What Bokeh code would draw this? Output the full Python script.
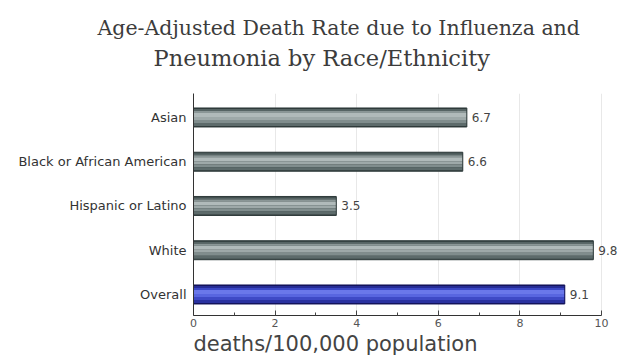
from bokeh.plotting import figure
from bokeh.models import Range1d, FixedTicker, Title
from bokeh.embed import file_html
from bokeh.resources import INLINE
from bokeh.core.properties import value

# data (top to bottom in the chart)
categories = ["Asian", "Black or African American", "Hispanic or Latino", "White", "Overall"]
rates = [6.7, 6.6, 3.5, 9.8, 9.1]
value_labels = ["6.7", "6.6", "3.5", "9.8", "9.1"]
x_ticks = [0, 2, 4, 6, 8, 10]
x_minor_ticks = [1, 3, 5, 7, 9]
is_overall = [False, False, False, False, True]
x_title = "deaths/100,000 population"

n = len(categories)
ypos = [n - 1 - i for i in range(n)]  # Asian at top

PX_PER_UNIT = 44.25
BAR_PX = 19.0
Y0 = -0.475

p = figure(width=618, height=356, output_backend="svg", toolbar_location=None,
           x_range=Range1d(0, 10.417), y_range=Range1d(Y0, 4.542),
           min_border_left=193, min_border_right=0, min_border_top=93, min_border_bottom=41,
           background_fill_color="white", border_fill_color="white", outline_line_color=None)

p.title = None
# spacer between plot area and the two-line title
p.add_layout(Title(text=" ", align="left", text_font_size="1px", standoff=20), "above")
p.add_layout(Title(text="Pneumonia by Race/Ethnicity", align="left", offset=-40,
                   text_font="DejaVu Serif", text_font_size="22.5px", text_font_style="normal",
                   text_color="#3c3c3c", standoff=0), "above")
p.add_layout(Title(text="Age-Adjusted Death Rate due to Influenza and", align="left", offset=-96,
                   text_font="DejaVu Serif", text_font_size="20.5px", text_font_style="normal",
                   text_color="#3c3c3c", standoff=6), "above")

# gridlines
p.ygrid.grid_line_color = None
p.xgrid.ticker = FixedTicker(ticks=[2, 4, 6, 8, 10])
p.xgrid.grid_line_color = "#e8e8e8"
p.xgrid.grid_line_width = 1

# cylinder-like gradient bands (px from top of bar, px height, grey colour, blue colour)
bands = [
    (0, 19, "#2f3b3b", "#14145c"),
    (1, 2, "#566464", "#262c96"),
    (3, 2, "#8a9696", "#3a46c4"),
    (5, 4, "#b0baba", "#6a78ea"),
    (9, 3, "#9ea9a9", "#5866e0"),
    (12, 3, "#808d8d", "#3e4ac6"),
    (15, 3, "#5d6b6b", "#2a31a0"),
]
for top_px, h_px, grey, blue in bands:
    centre_off = (BAR_PX / 2 - top_px - h_px / 2) / PX_PER_UNIT
    cols = [blue if o else grey for o in is_overall]
    p.hbar(y=[y + centre_off for y in ypos], left=0, right=rates, height=h_px / PX_PER_UNIT,
           fill_color=cols, line_color=None)
outline = ["#14145c" if o else "#2f3b3b" for o in is_overall]
p.hbar(y=ypos, left=0, right=rates, height=BAR_PX / PX_PER_UNIT, fill_color=None,
       line_color=outline, line_width=1)

p.text(x=rates, y=ypos, text=value_labels, x_offset=5, text_baseline="middle", text_align="left",
       text_font=value("DejaVu Sans"), text_font_size="12px", text_color="#444444")

# axes
p.xaxis.ticker = FixedTicker(ticks=x_ticks, minor_ticks=x_minor_ticks)
p.xaxis.bounds = (0, 10)
p.xaxis.major_label_text_font = "DejaVu Sans"
p.xaxis.major_label_text_font_size = "11px"
p.xaxis.major_label_text_color = "#555555"
p.xaxis.major_label_standoff = 3
p.xaxis.axis_line_color = "#333333"
p.xaxis.major_tick_in = 5
p.xaxis.major_tick_out = 0
p.xaxis.minor_tick_in = 3
p.xaxis.minor_tick_out = 0
p.xaxis.major_tick_line_color = "#444444"
p.xaxis.minor_tick_line_color = "#444444"

# x-axis title, left-aligned with the plot area
p.add_layout(Title(text=x_title, align="left", offset=0, text_font="DejaVu Sans",
                   text_font_size="21px", text_font_style="normal", text_color="#444444",
                   standoff=0), "below")

p.yaxis.ticker = FixedTicker(ticks=ypos)
p.yaxis.major_label_overrides = {y: c for y, c in zip(ypos, categories)}
p.yaxis.major_label_text_font = "DejaVu Sans"
p.yaxis.major_label_text_font_size = "13px"
p.yaxis.major_label_text_color = "#333333"
p.yaxis.major_tick_in = 0
p.yaxis.major_tick_out = 0
p.yaxis.minor_tick_in = 0
p.yaxis.minor_tick_out = 0
p.yaxis.axis_line_color = "#333333"
p.yaxis.major_label_standoff = 7

open("out.html", "w").write(file_html(p, INLINE))
